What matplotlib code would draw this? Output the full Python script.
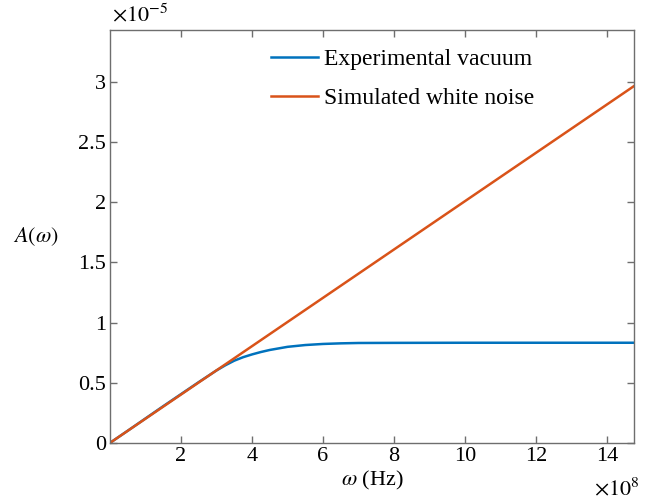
import numpy as np
import matplotlib
matplotlib.use("Agg")
import matplotlib.pyplot as plt

plt.rcParams['font.family'] = ['Liberation Serif', 'DejaVu Serif']
plt.rcParams['mathtext.fontset'] = 'stix'

# Frequency in units of 1e8 Hz, amplitude in units of 1e-5
omega_exp = [0, 0.5, 1.0, 1.5, 2.0, 2.5, 3.0, 3.25, 3.5, 3.75, 4.0, 4.25, 4.5,
             5.0, 5.5, 6.0, 6.5, 7.0, 8.0, 10.0, 12.0, 14.76]
amp_exp = [0, 0.101, 0.203, 0.305, 0.405, 0.505, 0.602, 0.645, 0.683, 0.712, 0.735,
           0.755, 0.772, 0.798, 0.813, 0.822, 0.827, 0.830, 0.831, 0.832, 0.832, 0.832]

omega_sim = [0, 14.76]
amp_sim = [0, 2.965]

labels = ["Experimental vacuum", "Simulated white noise"]
colors = ["#0072BD", "#D95319"]

x_ticks = [2, 4, 6, 8, 10, 12, 14]
y_ticks = [0, 0.5, 1, 1.5, 2, 2.5, 3]

FS = 16

fig = plt.figure(figsize=(6.47, 5.01), dpi=100)
ax = fig.add_axes([0.170, 0.116, 0.810, 0.824])

ax.plot(omega_exp, amp_exp, color=colors[0], lw=1.8, label=labels[0])
ax.plot(omega_sim, amp_sim, color=colors[1], lw=1.8, label=labels[1])

ax.set_xlim(0, 14.76)
ax.set_ylim(0, 3.43)
ax.set_xticks(x_ticks)
ax.set_xticklabels([str(t) for t in x_ticks])
ax.set_yticks(y_ticks)
ax.set_yticklabels(["0", "0.5", "1", "1.5", "2", "2.5", "3"])

axis_gray = "#6e6e6e"
for s in ax.spines.values():
    s.set_color(axis_gray)
    s.set_linewidth(1.0)
ax.tick_params(direction='in', top=True, right=True, length=5, width=1.0,
               color=axis_gray, labelsize=FS, labelcolor='black', pad=3)

ax.set_xlabel(r"$\omega$ (Hz)", fontsize=FS, labelpad=2)
ax.set_ylabel(r"$A(\omega)$", fontsize=FS, rotation=0, labelpad=30, va='center')

ax.text(0.003, 1.008, r"$\times10^{-5}$", transform=ax.transAxes,
        fontsize=FS, ha='left', va='bottom')
ax.text(1.01, -0.085, r"$\times10^{8}$", transform=ax.transAxes,
        fontsize=FS, ha='right', va='top')

leg = ax.legend(loc='upper left', bbox_to_anchor=(0.28, 0.99), frameon=False,
                fontsize=17, handlelength=2.0, handletextpad=0.25,
                labelspacing=0.75, borderaxespad=0.2)

fig.savefig("out.png", dpi=100)
